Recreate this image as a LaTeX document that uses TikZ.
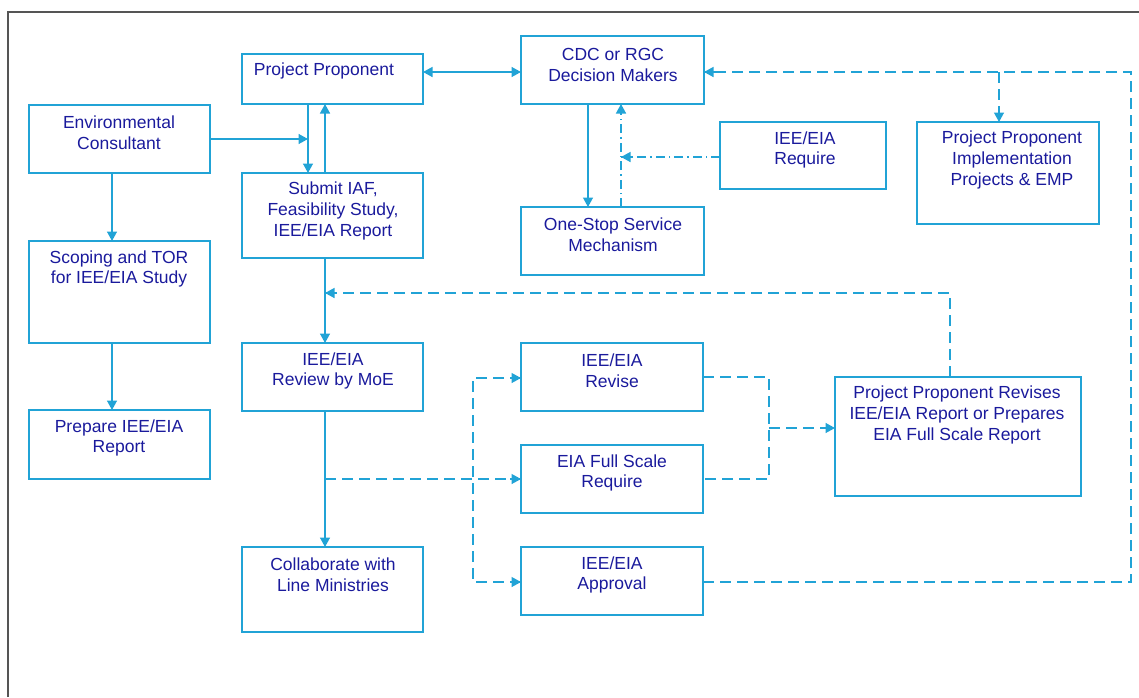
\documentclass[tikz,border=0pt]{standalone}
\usepackage{fontspec}
\setmainfont{Liberation Sans}
\usetikzlibrary{arrows.meta,fit,calc}
\definecolor{boxblue}{RGB}{33,163,214}
\definecolor{txtblue}{RGB}{26,26,156}
\definecolor{framegray}{RGB}{85,85,85}

% a rectangular panel given by its two corners
\newcommand\panel[5]{%
  \path (#2,#3) coordinate (#1-nw) (#4,#5) coordinate (#1-se);
  \node[box, fit=(#1-nw)(#1-se)] (#1) {};}

\begin{document}
\begin{tikzpicture}[x=1pt,y=-1pt,
  box/.style={draw=boxblue, line width=1.8pt, inner sep=0pt, outer sep=0pt},
  lbl/.style={text=txtblue, font=\fontsize{17.5}{20.8}\selectfont, align=center, inner sep=0pt},
  tip/.style={-{Triangle[length=9.5pt,width=10pt]}},
  flow/.style={draw=boxblue, line width=1.4pt, tip},
  both/.style={draw=boxblue, line width=1.4pt, {Triangle[length=9.5pt,width=10pt]}-{Triangle[length=9.5pt,width=10pt]}},
  dashflow/.style={draw=boxblue, line width=1.4pt, dash pattern=on 11pt off 6pt},
  dotflow/.style={draw=boxblue, line width=1.4pt, dash pattern=on 9pt off 4pt on 1.5pt off 4pt},
]
\useasboundingbox (0,0) rectangle (1139,697);

% outer frame
\draw[framegray, line width=1.5pt] (8,697) -- (8,12) -- (1139,12);

% panels
\panel{ec}{29}{105}{210}{173}
\panel{pp}{242}{54}{423}{104}
\panel{sub}{242}{173}{423}{258}
\panel{scop}{29}{241}{210}{343}
\panel{prep}{29}{410}{210}{479}
\panel{moe}{242}{343}{423}{411}
\panel{coll}{242}{547}{423}{632}
\panel{cdc}{521}{36}{704}{104}
\panel{oss}{521}{207}{704}{275}
\panel{req}{720}{122}{886}{189}
\panel{impl}{917}{122}{1099}{224}
\panel{rev}{521}{343}{703}{411}
\panel{full}{521}{445}{703}{513}
\panel{appr}{521}{547}{703}{615}
\panel{ppr}{835}{377}{1081}{496}

% labels
\node[lbl] (ec-t)   at (119,133)   {Environmental\\Consultant};
\node[lbl] (pp-t)   at (324,71)    {Project Proponent};
\node[lbl] (sub-t)  at (333,211)   {Submit IAF,\\Feasibility Study,\\IEE/EIA Report};
\node[lbl] (scop-t) at (119,269)   {Scoping and TOR\\for IEE/EIA Study};
\node[lbl] (prep-t) at (119,438)   {Prepare IEE/EIA\\Report};
\node[lbl] (moe-t)  at (333,371)   {IEE/EIA\\Review by MoE};
\node[lbl] (coll-t) at (333,575)   {Collaborate with\\Line Ministries};
\node[lbl] (cdc-t)  at (613,65)    {CDC or RGC\\Decision Makers};
\node[lbl] (oss-t)  at (613,235)   {One-Stop Service\\Mechanism};
\node[lbl] (req-t)  at (805,150)   {IEE/EIA\\Require};
\node[lbl] (impl-t) at (1012,160)  {Project Proponent\\Implementation\\Projects \& EMP};
\node[lbl] (rev-t)  at (612,371)   {IEE/EIA\\Revise};
\node[lbl] (full-t) at (612,473)   {EIA Full Scale\\Require};
\node[lbl] (appr-t) at (612,575)   {IEE/EIA\\Approval};
\node[lbl] (ppr-t)  at (957,415)   {Project Proponent Revises\\IEE/EIA Report or Prepares\\EIA Full Scale Report};

% junction points
\coordinate (jec)   at (308,139);
\coordinate (jup)   at (325,0);
\coordinate (jpp)   at (0,72);
\coordinate (jdown) at (588,0);
\coordinate (jos)   at (621,157);
\coordinate (jfb)   at (325,293);
\coordinate (jfbr)  at (950,293);
\coordinate (jmid)  at (325,479);
\coordinate (jtop)  at (473,378);
\coordinate (jbot)  at (473,582);
\coordinate (jbr)   at (769,377);
\coordinate (jbr2)  at (769,479);
\coordinate (jbrm)  at (769,428);
\coordinate (jrt)   at (1131,582);
\coordinate (jrtop) at (1131,72);
\coordinate (jimp)  at (999,72);
\coordinate (jleft) at (112,0);

% solid connectors
\draw[flow] (ec.east |- jec) -- (jec);
\draw[flow] (pp.south -| jec) -- (sub.north -| jec);
\draw[flow] (sub.north -| jup) -- (pp.south -| jup);
\draw[both] (pp.east |- jpp) -- (cdc.west |- jpp);
\draw[flow] (cdc.south -| jdown) -- (oss.north -| jdown);
\draw[flow] (sub.south -| jup) -- (moe.north -| jup);
\draw[flow] (moe.south -| jup) -- (coll.north -| jup);
\draw[flow] (ec.south -| jleft) -- (scop.north -| jleft);
\draw[flow] (scop.south -| jleft) -- (prep.north -| jleft);

% dash-dot connectors
\draw[dotflow] (oss.north -| jos) -- (cdc.south -| jos);
\draw[dotflow] (req.west |- jos) -- (jos);

% dashed connectors
\draw[dashflow] (ppr.north -| jfbr) -- (jfbr) -- (jfb);
\draw[dashflow] (jmid) -- (full.west |- jmid);
\draw[dashflow] (rev.west |- jtop) -- (jtop) -- (jbot) -- (appr.west |- jbot);
\draw[dashflow] (rev.east |- jbr) -- (jbr) -- (jbr2) -- (full.east |- jbr2);
\draw[dashflow] (jbrm) -- (ppr.west |- jbrm);
\draw[dashflow] (appr.east |- jrt) -- (jrt) -- (jrtop) -- (cdc.east |- jrtop);
\draw[dashflow] (jimp) -- (impl.north -| jimp);

% solid arrow tips closing the dashed and dash-dot connectors
\foreach \a/\b in {{full.west |- jmid}/{-11,0}, {rev.west |- jtop}/{-11,0}, {appr.west |- jbot}/{-11,0},
                   {ppr.west |- jbrm}/{-11,0}, {cdc.east |- jrtop}/{11,0}, {impl.north -| jimp}/{0,-11},
                   {jfb}/{11,0}, {jos}/{11,0}, {cdc.south -| jos}/{0,11}}
  \draw[draw=boxblue, line width=1.4pt, tip] ($(\a)+(\b)$) -- (\a);
\end{tikzpicture}
\end{document}
